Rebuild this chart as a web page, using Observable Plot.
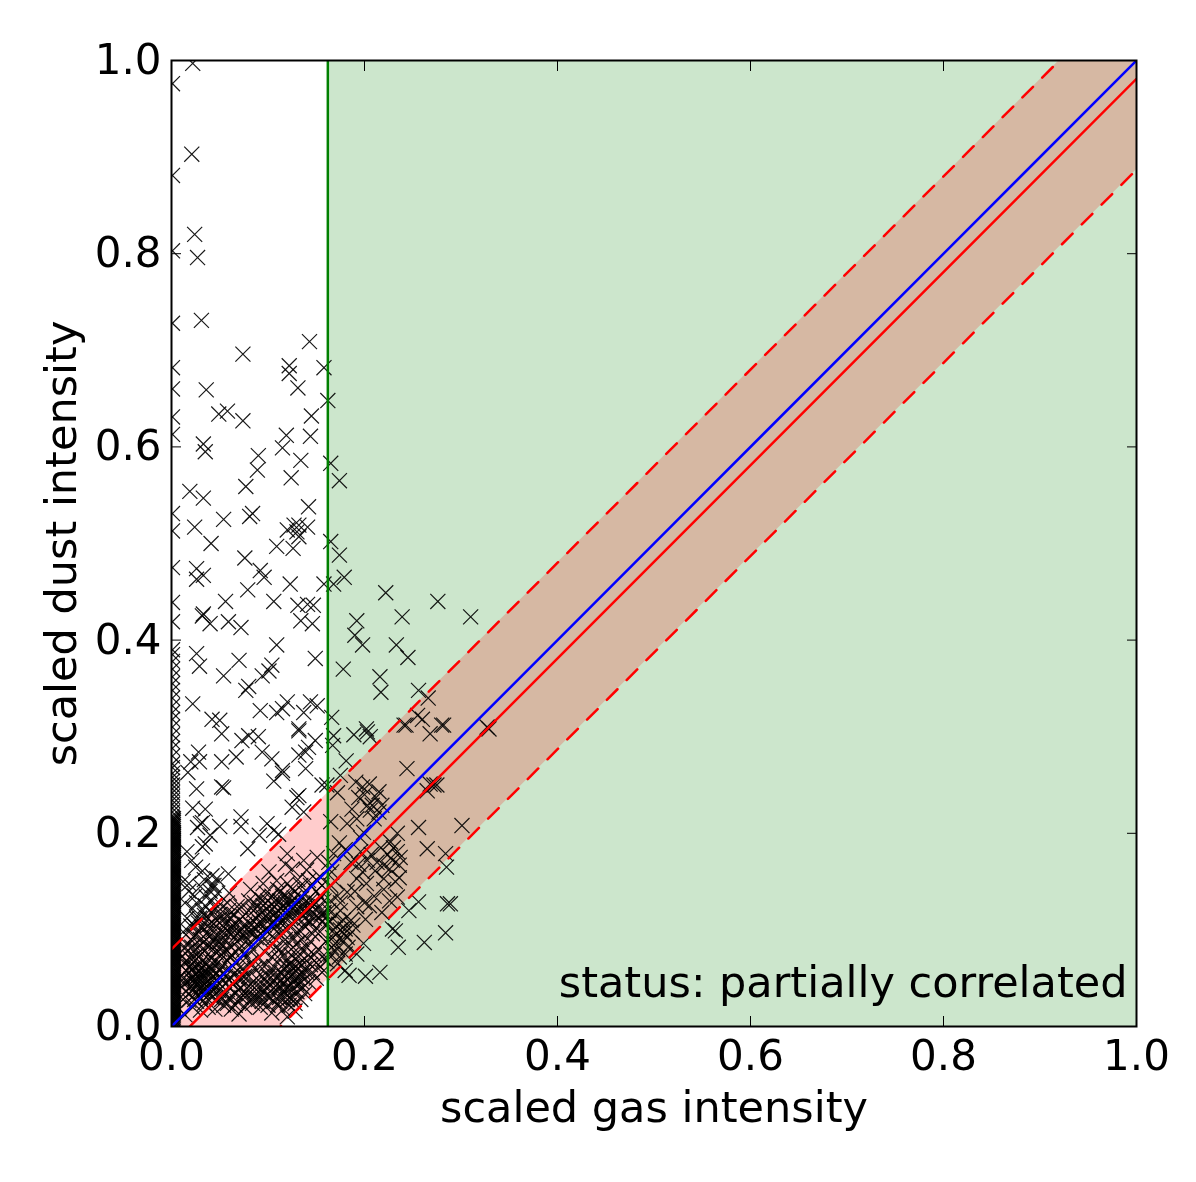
<!DOCTYPE html>
<html>
<head>
<meta charset="utf-8">
<script src="https://cdn.jsdelivr.net/npm/d3@7"></script>
<script src="https://cdn.jsdelivr.net/npm/@observablehq/plot@0.6"></script>
<style>
  html, body { margin: 0; padding: 0; background: white; }
  #chart { width: 1196px; height: 1182px; }
  svg { display: block; filter: blur(0.5px); }
</style>
</head>
<body>
<div id="chart"></div>
<script>
// valores: [gas, dust]
const topPoints = [[.022,.997],[.001,.976],[.021,.903],[.001,.881],[.024,.82],[.001,.803],[.027,.796],[.031,.731],[.001,.728],[.143,.709],[.074,.696],[.122,.684],[.122,.676],[.158,.682],[.001,.682],[.001,.66],[.036,.659],[.131,.661],[.162,.648]]
const midPoints = [[.049,.634],[.058,.637],[.074,.627],[.145,.632],[.001,.631],[.001,.613],[.119,.612],[.144,.611],[.033,.603],[.035,.595],[.115,.599],[.09,.591],[.134,.586],[.165,.583],[.089,.576],[.174,.565],[.124,.568],[.077,.559],[.019,.554],[.033,.547],[.142,.538],[.001,.531],[.084,.531],[.081,.528],[.054,.525],[.024,.517],[.001,.513],[.127,.519],[.12,.514],[.132,.519],[.141,.517],[.13,.512],[.132,.507],[.041,.5],[.165,.502],[.109,.497],[.126,.495],[.174,.488],[.076,.485],[.001,.475],[.026,.474],[.092,.472],[.096,.465],[.033,.467],[.026,.463],[.179,.465],[.123,.458],[.079,.452],[.158,.458],[.168,.458],[.222,.449],[.056,.44],[.106,.44],[.276,.44],[.001,.439],[.131,.436],[.141,.437],[.147,.436],[.032,.425],[.033,.427],[.239,.424],[.31,.424],[.192,.42],[.04,.417],[.059,.419],[.001,.419],[.134,.42],[.146,.417],[.072,.413],[.19,.405],[.198,.395],[.233,.395],[.109,.395],[.026,.386],[.245,.382],[.07,.379],[.149,.381],[.029,.373],[.178,.37],[.104,.374],[.101,.368],[.094,.363],[.054,.363],[.216,.362],[.08,.352],[.077,.348],[.217,.346],[.256,.348],[.266,.34],[.022,.334],[.12,.336],[.115,.329],[.092,.327],[.109,.325],[.144,.336],[.151,.332],[.137,.325],[.166,.32],[.042,.318],[.05,.317],[.255,.322],[.26,.318],[.132,.308],[.202,.308],[.282,.312],[.241,.312],[.327,.31]]
const lowerLeftPoints = [[.052,.303],[.132,.306],[.08,.301],[.09,.3],[.073,.296],[.149,.296],[.142,.289],[.139,.284],[.132,.281],[.139,.267],[.028,.284],[.094,.284],[.067,.279],[.104,.277],[.02,.274],[.029,.274],[.052,.274],[.017,.263],[.115,.265],[.115,.262],[.106,.254],[.156,.25],[.026,.246],[.052,.248],[.054,.247],[.13,.237],[.132,.239],[.022,.226],[.035,.225],[.125,.227],[.137,.222],[.072,.217],[.03,.21],[.032,.211],[.027,.206],[.05,.207],[.072,.207],[.099,.21],[.106,.203],[.111,.199],[.091,.198],[.04,.198],[.035,.189],[.032,.186],[.079,.184],[.016,.181],[.021,.172],[.12,.179],[.118,.168],[.137,.172],[.151,.175],[.032,.161],[.025,.165],[.059,.158],[.042,.156],[.047,.153],[.101,.16],[.125,.163],[.14,.162],[.018,.148],[.044,.146],[.109,.151],[.142,.151],[.154,.155],[.012,.15],[.018,.14],[.024,.135],[.014,.128],[.022,.122],[.016,.112],[.026,.112],[.02,.104],[.012,.098],[.03,.145],[.034,.152],[.042,.146]]
const clusterA = [[.016,.078],[.02,.07],[.024,.062],[.018,.055],[.022,.05],[.026,.056],[.03,.048],[.028,.04],[.034,.044],[.038,.052],[.032,.06],[.036,.066],[.042,.058],[.046,.048],[.02,.042],[.025,.034],[.015,.036],[.03,.03],[.038,.036],[.044,.04],[.05,.044],[.054,.056],[.048,.066],[.028,.072],[.024,.045],[.027,.052],[.033,.052],[.029,.058],[.035,.04],[.041,.046],[.019,.062],[.023,.038],[.012,.028],[.008,.018],[.014,.012],[.04,.072],[.052,.074],[.058,.068],[.06,.06],[.056,.045],[.062,.082]]
const clusterExtra = [[.013,.066],[.015,.058],[.017,.047],[.021,.059],[.023,.067],[.025,.05],[.027,.044],[.029,.064],[.031,.054],[.031,.041],[.033,.036],[.035,.057],[.037,.046],[.039,.061],[.04,.041],[.043,.052],[.045,.063],[.047,.055],[.049,.037],[.051,.051],[.053,.063],[.055,.033],[.057,.079],[.061,.072],[.064,.054],[.066,.066],[.068,.058],[.07,.05],[.072,.07],[.074,.06],[.017,.084],[.021,.082],[.025,.08],[.03,.084],[.034,.078],[.038,.082],[.043,.08],[.047,.076],[.052,.084],[.012,.045],[.01,.052],[.011,.072],[.014,.082],[.026,.026],[.034,.024],[.042,.03],[.047,.027],[.052,.028],[.018,.027],[.022,.02],[.03,.017],[.038,.02],[.045,.018],[.054,.022],[.062,.018],[.07,.013]]
const bandPoints = [[.02,.09],[.028,.098],[.034,.088],[.04,.094],[.046,.086],[.052,.098],[.056,.09],[.062,.096],[.066,.106],[.072,.092],[.078,.1],[.084,.11],[.09,.104],[.096,.12],[.1,.112],[.104,.126],[.108,.118],[.112,.13],[.116,.124],[.12,.134],[.124,.128],[.128,.12],[.132,.112],[.136,.126],[.14,.118],[.144,.13],[.148,.112],[.152,.122],[.156,.108],[.118,.112],[.11,.105],[.1,.098],[.092,.116],[.086,.128],[.08,.12],[.074,.114],[.068,.124],[.062,.112],[.056,.108],[.05,.116],[.044,.106],[.038,.112],[.032,.12],[.026,.128],[.036,.134],[.042,.13],[.048,.138],[.058,.128],[.068,.088],[.074,.078],[.08,.086],[.088,.092],[.094,.088],[.106,.092],[.114,.098],[.122,.104],[.13,.098],[.138,.104],[.146,.096],[.154,.098],[.16,.106],[.128,.14],[.134,.146],[.12,.148],[.11,.142],[.098,.138],[.09,.134],[.15,.14],[.158,.13]]
const bandExtra = [[.024,.094],[.031,.103],[.036,.096],[.043,.1],[.048,.093],[.054,.103],[.059,.098],[.064,.101],[.07,.098],[.076,.106],[.082,.097],[.086,.103],[.092,.096],[.096,.105],[.098,.113],[.102,.119],[.105,.108],[.107,.124],[.11,.114],[.113,.122],[.115,.135],[.118,.128],[.121,.12],[.123,.113],[.125,.122],[.127,.133],[.13,.126],[.133,.119],[.135,.133],[.138,.112],[.141,.124],[.143,.108],[.146,.118],[.15,.128],[.153,.112],[.155,.134],[.158,.118],[.089,.124],[.094,.131],[.104,.135],[.108,.131],[.113,.14],[.125,.142],[.131,.152],[.138,.138],[.144,.146],[.15,.152],[.156,.146],[.08,.13],[.072,.124],[.065,.116],[.059,.12],[.053,.124],[.047,.11],[.041,.118],[.035,.125],[.029,.112],[.04,.14],[.06,.138],[.082,.142],[.095,.148]]
const triangleFill = [[.03,.09],[.037,.104],[.044,.092],[.05,.088],[.055,.097],[.06,.084],[.067,.094],[.073,.101],[.079,.09],[.085,.098],[.091,.108],[.097,.1],[.103,.105],[.109,.098],[.115,.108],[.12,.1],[.126,.106],[.134,.098],[.142,.11],[.148,.1],[.155,.116],[.085,.12],[.09,.115],[.095,.125],[.1,.13],[.106,.115],[.112,.108],[.118,.118],[.122,.127],[.128,.11],[.134,.122],[.14,.13],[.146,.124],[.076,.094],[.082,.105],[.07,.11],[.063,.105],[.058,.114],[.052,.11],[.046,.122],[.04,.106],[.034,.115],[.028,.107],[.023,.105],[.018,.098],[.03,.078],[.04,.086],[.05,.08],[.062,.074],[.07,.08],[.078,.072],[.084,.08],[.09,.07],[.096,.078],[.102,.084],[.108,.082],[.114,.076],[.098,.064],[.086,.06],[.076,.052],[.066,.046],[.082,.066],[.092,.062],[.1,.052],[.106,.048],[.112,.042],[.116,.036],[.12,.028],[.112,.026],[.102,.03],[.094,.026],[.086,.03],[.08,.026],[.072,.03],[.066,.022],[.058,.024],[.05,.032],[.042,.036],[.036,.03],[.03,.036],[.024,.028],[.018,.034],[.014,.045],[.02,.049],[.016,.068],[.024,.072],[.032,.068],[.038,.058],[.044,.068],[.05,.058],[.056,.052],[.06,.048],[.126,.082],[.134,.08],[.142,.074],[.15,.066],[.156,.056],[.14,.056],[.132,.044],[.138,.034],[.128,.024]]
const lowerBand = [[.06,.04],[.066,.034],[.072,.04],[.078,.032],[.082,.044],[.086,.036],[.09,.028],[.094,.04],[.098,.032],[.102,.044],[.106,.026],[.11,.036],[.114,.048],[.118,.04],[.122,.056],[.126,.046],[.13,.036],[.116,.06],[.112,.07],[.108,.056],[.12,.068],[.124,.074],[.128,.062],[.134,.052],[.138,.06],[.132,.072],[.142,.046],[.146,.056],[.126,.03],[.134,.028],[.122,.022],[.116,.018],[.11,.022],[.1,.022],[.092,.02],[.084,.024],[.076,.02],[.068,.026],[.06,.03],[.054,.036],[.104,.014],[.128,.016],[.12,.01],[.136,.04],[.15,.05],[.154,.062],[.148,.074],[.14,.082],[.13,.086],[.118,.09],[.104,.072]]
const lowerExtra = [[.064,.044],[.069,.038],[.075,.036],[.08,.038],[.084,.03],[.088,.042],[.092,.034],[.096,.036],[.1,.04],[.104,.034],[.108,.042],[.11,.05],[.112,.03],[.114,.056],[.116,.044],[.117,.052],[.118,.034],[.119,.062],[.12,.048],[.121,.04],[.122,.064],[.123,.03],[.124,.052],[.125,.062],[.126,.038],[.127,.056],[.128,.07],[.129,.05],[.13,.044],[.131,.06],[.133,.066],[.135,.046],[.136,.056],[.14,.068],[.144,.064],[.098,.046],[.094,.052],[.088,.05],[.08,.052],[.072,.05],[.106,.062],[.102,.056],[.112,.08],[.12,.084],[.126,.092],[.135,.09],[.144,.088],[.152,.08],[.158,.07],[.16,.088]]
const rightPoints = [[.243,.312],[.28,.312],[.268,.303],[.329,.308],[.168,.301],[.189,.302],[.203,.305],[.206,.3],[.167,.291],[.181,.275],[.244,.267],[.175,.26],[.161,.25],[.191,.253],[.205,.251],[.272,.25],[.268,.251],[.275,.25],[.265,.244],[.215,.243],[.194,.237],[.208,.229],[.203,.229],[.218,.229],[.206,.224],[.187,.225],[.215,.222],[.165,.212],[.182,.21],[.256,.206],[.301,.208],[.199,.201],[.234,.2],[.227,.191],[.265,.184],[.284,.179],[.285,.165],[.168,.179],[.196,.181],[.234,.181],[.203,.172],[.237,.175],[.229,.172],[.236,.167],[.22,.167],[.211,.161],[.192,.153],[.22,.153],[.236,.154],[.182,.139],[.165,.146],[.22,.142],[.234,.134],[.205,.125],[.256,.129],[.286,.127],[.289,.127],[.246,.12],[.218,.118],[.201,.111],[.17,.115],[.18,.101],[.187,.098],[.229,.101],[.232,.099],[.284,.097],[.262,.087],[.235,.082],[.199,.086],[.17,.086],[.192,.075],[.18,.058],[.184,.053],[.201,.052],[.216,.056],[.161,.068],[.16,.113],[.173,.106],[.175,.12],[.192,.124],[.179,.096],[.167,.092],[.165,.075],[.172,.065]]
const rightExtra = [[.163,.17],[.166,.16],[.17,.15],[.172,.135],[.175,.128],[.178,.11],[.165,.13],[.163,.12],[.168,.1],[.172,.08],[.177,.09],[.183,.082],[.186,.11],[.19,.14],[.194,.168],[.198,.16],[.202,.148],[.207,.178],[.213,.17],[.217,.185],[.224,.178],[.226,.163],[.23,.185],[.232,.15],[.226,.13],[.21,.135],[.2,.128],[.186,.17],[.18,.183],[.174,.19],[.192,.215],[.21,.215],[.196,.195],[.172,.242],[.2,.24],[.212,.237],[.198,.248],[.164,.108],[.17,.095],[.175,.1],[.182,.092],[.188,.105],[.166,.082],[.174,.072],[.18,.075]]
// columna pegada al eje izquierdo
const edgeDust = [.39,.385,.378,.37,.362,.355,.348,.34,.332,.325,.318,.31,.302,.295,.288,.28,.272,.268,.262,.258,.254,.25,.246,.242,.238,.234,.23,.226,.222,.218,.216,.214,.212,.21,.208,.206,.204,.202,.2,.198,.196,.194,.192,.19,.188,.186,.184,.182,.18,.178,.176,.174,.172,.17,.168,.166,.164,.162,.16,.158,.156,.154,.152,.15,.148,.146,.144,.142,.14,.138,.136,.134,.132,.13,.128,.126,.124,.122,.12,.118,.116,.114,.112,.11,.108,.106,.104,.102,.1,.098,.096,.094,.092,.09,.088,.086,.084,.082,.08,.078,.076,.074,.072,.07,.068,.066,.064,.062,.06,.058,.056,.054,.052,.05,.048,.046,.044,.042,.04,.038,.036,.034,.032,.03,.028,.026,.024,.022,.02,.018,.016,.014,.012,.01,.008,.006,.004,.002]
const edgeDust2 = [.215,.213,.211,.209,.207,.205,.203,.201,.199,.197,.195,.193,.191,.189,.187,.185,.183,.181,.179,.177,.175,.173,.171,.169,.167,.165,.163,.161,.159,.157,.155,.153,.151,.149,.147,.145,.143,.141,.139,.137,.135,.133,.131,.129,.127,.125,.123,.121,.119,.117,.115,.113,.111,.109,.107,.105,.103,.101,.099,.097,.095,.093,.091,.089,.087,.085,.083,.081,.079,.077,.075,.073,.071,.069,.067,.065,.063,.061,.059,.057,.055,.053,.051,.049,.047,.045,.043,.041,.039,.037,.035,.033,.031,.029,.027,.025,.023,.021,.019,.017,.015,.013,.011,.009,.007,.005,.003,.001]

const xLimit = 0.162        // umbral de gas
const bandX = [0, 1]
const identityY = [0, 1]
const fitY = [-0.019, 0.981]
const upperY = [0.08, 1.08]
const lowerY = [-0.113, 0.887]
const ticks = [0, 0.2, 0.4, 0.6, 0.8, 1]

const points = [...topPoints, ...midPoints, ...lowerLeftPoints, ...clusterA, ...clusterExtra, ...bandPoints, ...bandExtra, ...triangleFill, ...lowerBand, ...lowerExtra, ...rightPoints, ...rightExtra, ...edgeDust.map(d => [.001, d]), ...edgeDust2.map(d => [.002, d])]
const band = bandX.map((x, i) => ({x, identity: identityY[i], fit: fitY[i], upper: upperY[i], lower: lowerY[i]}))
const fmt = d3.format('.1f')

let chart = Plot.plot({
  width: 1196,
  height: 1182,
  marginLeft: 171,
  marginRight: 60,
  marginTop: 60,
  marginBottom: 156,
  style: {fontFamily: 'DejaVu Sans', fontSize: '42px', background: 'white', color: 'black'},
  x: {domain: [0, 1]},
  y: {domain: [0, 1]},
  marks: [
    Plot.rectY([0], {x1: xLimit, x2: 1, y1: 0, y2: 1, fill: 'green', fillOpacity: 0.2}),
    Plot.areaY(band, {x: 'x', y1: 'lower', y2: 'upper', fill: 'red', fillOpacity: 0.2, clip: true}),
    Plot.dot(points, {x: d => d[0], y: d => d[1], symbol: 'times', r: 6.9, stroke: 'black', strokeWidth: 1.2, strokeOpacity: 0.9, clip: true}),
    Plot.ruleX([xLimit], {stroke: 'green', strokeWidth: 2.5}),
    Plot.line(band, {x: 'x', y: 'identity', stroke: 'blue', strokeWidth: 2.5, clip: true}),
    Plot.line(band, {x: 'x', y: 'fit', stroke: 'red', strokeWidth: 2.5, clip: true}),
    Plot.line(band, {x: 'x', y: 'upper', stroke: 'red', strokeWidth: 2.5, strokeDasharray: '15 13', clip: true}),
    Plot.line(band, {x: 'x', y: 'lower', stroke: 'red', strokeWidth: 2.5, strokeDasharray: '15 13', clip: true}),
    Plot.axisX({ticks, tickFormat: fmt, tickSize: -10, tickPadding: 24, label: null, stroke: 'black'}),
    Plot.axisX({anchor: 'top', ticks, tickFormat: () => '', tickSize: -10, label: null, stroke: 'black'}),
    Plot.axisY({ticks, tickFormat: fmt, tickSize: -10, tickPadding: 20, label: null, stroke: 'black'}),
    Plot.axisY({anchor: 'right', ticks, tickFormat: () => '', tickSize: -10, label: null, stroke: 'black'}),
    Plot.text(['scaled gas intensity'], {frameAnchor: 'bottom', dy: 95, fontSize: 43, fill: 'black'}),
    Plot.text(['scaled dust intensity'], {frameAnchor: 'left', dx: -109, rotate: -90, textAnchor: 'middle', fontSize: 43, fill: 'black'}),
    Plot.text(['status: partially correlated'], {frameAnchor: 'bottom-right', dx: -9, dy: -30, textAnchor: 'end', fontSize: 43, fill: 'black'}),
    Plot.frame({stroke: 'black', strokeWidth: 2})
  ]
})
d3.select('#chart').append(() => chart)
</script>
</body>
</html>
